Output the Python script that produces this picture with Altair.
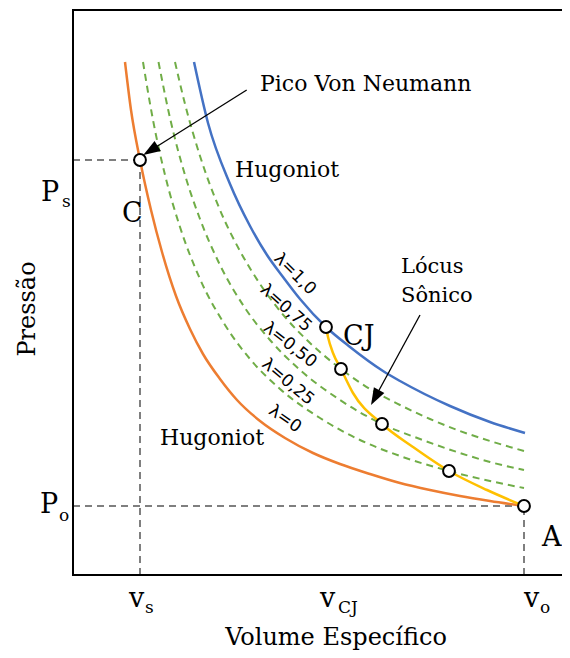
import math
import altair as alt
import pandas as pd

# ---------------- data (arbitrary units) ----------------
# Volume (v) and pressure (P), origin at the axes corner
V_MAX, P_MAX = 489, 565

# Hugoniot lambda = 0 (orange)
lam0_v = [52, 58, 67, 78, 89, 103, 117, 130, 147, 164, 187, 212, 240, 267, 297, 327, 357, 387, 417, 451]
lam0_p = [513, 465, 415, 365, 323, 279, 246, 221, 196, 175, 154, 137, 122, 111, 101, 92, 85, 79, 74, 69]

# Hugoniot lambda = 1 (blue)
lam1_v = [121, 135, 157, 177, 194, 210, 227, 253, 277, 310, 327, 377, 417, 452]
lam1_p = [513, 452, 391, 349, 320, 298, 276, 248, 228, 204, 194, 169, 153, 142]

# intermediate lambda curves (green, dashed)
lam075_v = [102, 112, 127, 147, 167, 187, 212, 237, 268, 297, 327, 357, 387, 417, 451]
lam075_p = [513, 471, 419, 365, 324, 291, 258, 232, 206, 186, 170, 156, 144, 134, 124]
lam050_v = [85.5, 97, 112, 127, 147, 172, 197, 227, 267, 309, 347, 387, 417, 451]
lam050_p = [513, 457, 400, 356, 310, 267, 235, 205, 175, 151, 136, 122, 113, 105]
lam025_v = [70, 80, 92, 107, 127, 152, 177, 207, 247, 287, 327, 376, 417, 451]
lam025_p = [513, 455, 400, 348, 296, 250, 216, 186, 157, 135, 119, 104, 94, 87]

# sonic locus (yellow)
sonic_v = [253, 255, 260, 268, 280, 309, 340, 376, 414, 451]
sonic_p = [248, 238, 222, 206, 182, 151, 128, 104, 85, 69]

# marked states
pts_v = [67, 253, 268, 309, 376, 451]
pts_p = [415, 248, 206, 151, 104, 69]

# reference values
v_s, P_s = 67, 415
v_cj = 253
v_o, P_o = 451, 69

# arrows: tail -> tip
arrow_tail_v = [173.7, 347]
arrow_tail_p = [485, 260]
arrow_tip_v = [70.3, 298]
arrow_tip_p = [420, 170]
HEAD = 8.5

# serif annotations (left aligned, baseline)
ann_text = ["Pico Von Neumann", "Hugoniot", "Hugoniot", "Lócus", "Sônico", "C", "CJ", "A",
            "P", "s", "P", "o", "v", "s", "v", "CJ", "v", "o"]
ann_v = [187, 162, 87, 328, 328, 49, 270, 469,
         -32, -11, -33, -14, 56, 72, 247, 265, 451, 467]
ann_p = [484, 398, 130, 302, 273, 353, 230, 29,
         374, 368, 62, 54, -32, -38, -32, -38, -32, -38]
ann_size = [22, 22, 22, 21, 21, 27, 27, 27,
            27, 17, 27, 17, 27, 17, 27, 17, 27, 17]

# lambda labels
lam_text = ["λ=1,0", "λ=0,75", "λ=0,50", "λ=0,25", "λ=0"]
lam_v = [222, 213, 217, 215, 212]
lam_p = [301, 267, 230, 193, 156]
lam_angle = [45, 42, 38, 40, 35]

# axis titles
title_text = ["Volume Específico", "Pressão"]
title_v = [263, -38]
title_p = [-70, 266]
title_angle = [0, 270]

# ---------------- build chart ----------------
xs = alt.Scale(domain=[0, V_MAX], nice=False, zero=False)
ys = alt.Scale(domain=[0, P_MAX], nice=False, zero=False)
X = lambda f="v": alt.X(f"{f}:Q", scale=xs, axis=None)
Y = lambda f="P": alt.Y(f"{f}:Q", scale=ys, axis=None)


def line_df(vs, ps, name):
    return pd.DataFrame({"v": vs, "P": ps, "curve": name, "i": range(len(vs))})


frame = pd.DataFrame({"v": [0, 0, 0], "P": [0, P_MAX, 0],
                      "v2": [0, V_MAX, V_MAX], "P2": [P_MAX, P_MAX, 0]})
frame_layer = alt.Chart(frame).mark_rule(color="black", strokeWidth=2, strokeCap="square").encode(
    x=X(), y=Y(), x2="v2:Q", y2="P2:Q")

guides = pd.DataFrame({"v": [0, v_s, 0, v_o], "P": [P_s, 0, P_o, 0],
                       "v2": [v_s, v_s, v_o, v_o], "P2": [P_s, P_s, P_o, P_o]})
guide_layer = alt.Chart(guides).mark_rule(color="#7f7f7f", strokeWidth=2, strokeDash=[7, 5]).encode(
    x=X(), y=Y(), x2="v2:Q", y2="P2:Q")

greens = pd.concat([line_df(lam025_v, lam025_p, "0.25"),
                    line_df(lam050_v, lam050_p, "0.50"),
                    line_df(lam075_v, lam075_p, "0.75")])
green_layer = alt.Chart(greens).mark_line(color="#70AD47", strokeWidth=2, strokeDash=[7, 5],
                                          interpolate="monotone").encode(
    x=X(), y=Y(), detail="curve:N", order="i:Q")

orange_layer = alt.Chart(line_df(lam0_v, lam0_p, "0")).mark_line(
    color="#ED7D31", strokeWidth=2.5, interpolate="monotone").encode(x=X(), y=Y(), order="i:Q")
blue_layer = alt.Chart(line_df(lam1_v, lam1_p, "1")).mark_line(
    color="#4472C4", strokeWidth=2.5, interpolate="monotone").encode(x=X(), y=Y(), order="i:Q")
sonic_layer = alt.Chart(line_df(sonic_v, sonic_p, "s")).mark_line(
    color="#FFC000", strokeWidth=2.5, interpolate="monotone").encode(x=X(), y=Y(), order="i:Q")

pts_layer = alt.Chart(pd.DataFrame({"v": pts_v, "P": pts_p})).mark_point(
    shape="circle", filled=True, fill="white", stroke="black", strokeWidth=2, size=140, opacity=1).encode(
    x=X(), y=Y())

# arrows
rows = []
for tv, tp, hv, hp in zip(arrow_tail_v, arrow_tail_p, arrow_tip_v, arrow_tip_p):
    dv, dp = hv - tv, hp - tp
    n = math.hypot(dv, dp)
    uv, up = dv / n, dp / n
    cv, cp = hv - HEAD * uv, hp - HEAD * up
    ang = math.degrees(math.atan2(uv, up)) % 360
    rows.append({"v": tv, "P": tp, "v2": cv, "P2": cp, "hv": cv, "hp": cp, "angle": ang})
arrows = pd.DataFrame(rows)
arrow_line = alt.Chart(arrows).mark_rule(color="black", strokeWidth=1.3).encode(
    x=X(), y=Y(), x2="v2:Q", y2="P2:Q")
arrow_head = alt.Chart(arrows).mark_point(
    shape="M0,-1L0.7,1L-0.7,1Z", filled=True, color="black", opacity=1, size=HEAD * HEAD * 4).encode(
    x=X("hv"), y=Y("hp"), angle=alt.Angle("angle:Q", scale=None))

ann = pd.DataFrame({"v": ann_v, "P": ann_p, "text": ann_text, "size": ann_size})
ann_layer = alt.Chart(ann).mark_text(font="DejaVu Serif", align="left", baseline="alphabetic",
                                     color="black").encode(
    x=X(), y=Y(), text="text:N", size=alt.Size("size:Q", scale=None))

lam = pd.DataFrame({"v": lam_v, "P": lam_p, "text": lam_text, "angle": lam_angle})
lam_layer = alt.Chart(lam).mark_text(font="DejaVu Sans", fontSize=17, align="center",
                                     baseline="middle", color="black").encode(
    x=X(), y=Y(), text="text:N", angle=alt.Angle("angle:Q", scale=None))

titles = pd.DataFrame({"v": title_v, "P": title_p, "text": title_text, "angle": title_angle})
title_layer = alt.Chart(titles).mark_text(font="DejaVu Serif", fontSize=24, align="center",
                                          baseline="alphabetic", color="black").encode(
    x=X(), y=Y(), text="text:N", angle=alt.Angle("angle:Q", scale=None))

chart = alt.layer(
    guide_layer, frame_layer, green_layer, orange_layer, blue_layer, sonic_layer,
    arrow_line, arrow_head, pts_layer, ann_layer, lam_layer, title_layer
).properties(
    width=V_MAX, height=P_MAX,
    padding={"left": 65, "top": 2, "right": 0, "bottom": 75},
    autosize=alt.AutoSizeParams(type="none"),
    background="white",
).configure_view(stroke=None)

chart.save("out.html", embed_options={"renderer": "svg", "actions": False})
